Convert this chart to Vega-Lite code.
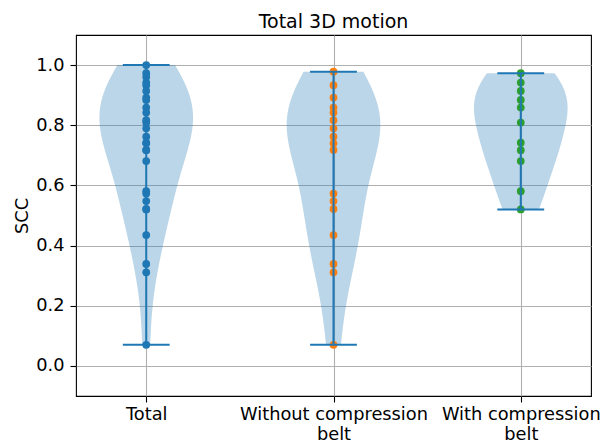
{
  "$schema": "https://vega.github.io/schema/vega-lite/v6.json",
  "width": 515,
  "height": 361,
  "autosize": {"type": "none"},
  "padding": {"left": 76, "top": 35, "right": 21, "bottom": 49},
  "background": "white",
  "config": {
    "font": "DejaVu Sans",
    "view": {"stroke": "#000000", "strokeWidth": 1.1},
    "axis": {
      "domain": false,
      "grid": true,
      "gridColor": "#b0b0b0",
      "gridWidth": 1.1,
      "tickColor": "#000000",
      "tickWidth": 1.1,
      "tickSize": 6,
      "labelPadding": 3,
      "labelLimit": 0,
      "labelOverlap": false,
      "labelFont": "DejaVu Sans",
      "labelFontSize": 17.8,
      "labelColor": "#000000",
      "titleFont": "DejaVu Sans",
      "titleFontSize": 17.8,
      "titleFontWeight": "normal",
      "titleColor": "#000000"
    },
    "title": {"font": "DejaVu Sans", "fontSize": 19, "fontWeight": "normal", "color": "#000000", "offset": 3, "baseline": "alphabetic"}
  },
  "title": {"text": "Total 3D motion"},
  "datasets": {
    "scc": [
      {"group": "Total", "value": 1.0},
      {"group": "Total", "value": 0.973},
      {"group": "Total", "value": 0.96},
      {"group": "Total", "value": 0.942},
      {"group": "Total", "value": 0.933},
      {"group": "Total", "value": 0.914},
      {"group": "Total", "value": 0.892},
      {"group": "Total", "value": 0.884},
      {"group": "Total", "value": 0.859},
      {"group": "Total", "value": 0.842},
      {"group": "Total", "value": 0.817},
      {"group": "Total", "value": 0.809},
      {"group": "Total", "value": 0.79},
      {"group": "Total", "value": 0.762},
      {"group": "Total", "value": 0.742},
      {"group": "Total", "value": 0.74},
      {"group": "Total", "value": 0.718},
      {"group": "Total", "value": 0.717},
      {"group": "Total", "value": 0.681},
      {"group": "Total", "value": 0.581},
      {"group": "Total", "value": 0.573},
      {"group": "Total", "value": 0.548},
      {"group": "Total", "value": 0.522},
      {"group": "Total", "value": 0.52},
      {"group": "Total", "value": 0.435},
      {"group": "Total", "value": 0.339},
      {"group": "Total", "value": 0.311},
      {"group": "Total", "value": 0.07},
      {"group": "Without compression belt", "value": 0.978},
      {"group": "Without compression belt", "value": 0.933},
      {"group": "Without compression belt", "value": 0.892},
      {"group": "Without compression belt", "value": 0.859},
      {"group": "Without compression belt", "value": 0.842},
      {"group": "Without compression belt", "value": 0.817},
      {"group": "Without compression belt", "value": 0.79},
      {"group": "Without compression belt", "value": 0.762},
      {"group": "Without compression belt", "value": 0.74},
      {"group": "Without compression belt", "value": 0.718},
      {"group": "Without compression belt", "value": 0.573},
      {"group": "Without compression belt", "value": 0.548},
      {"group": "Without compression belt", "value": 0.522},
      {"group": "Without compression belt", "value": 0.435},
      {"group": "Without compression belt", "value": 0.339},
      {"group": "Without compression belt", "value": 0.311},
      {"group": "Without compression belt", "value": 0.07},
      {"group": "With compression belt", "value": 0.973},
      {"group": "With compression belt", "value": 0.942},
      {"group": "With compression belt", "value": 0.914},
      {"group": "With compression belt", "value": 0.884},
      {"group": "With compression belt", "value": 0.859},
      {"group": "With compression belt", "value": 0.809},
      {"group": "With compression belt", "value": 0.742},
      {"group": "With compression belt", "value": 0.717},
      {"group": "With compression belt", "value": 0.681},
      {"group": "With compression belt", "value": 0.581},
      {"group": "With compression belt", "value": 0.52}
    ]
  },
  "data": {"name": "scc"},
  "transform": [
    {"calculate": "indexof(['Total', 'Without compression belt', 'With compression belt'], datum.group) + 1", "as": "pos"}
  ],
  "layer": [
    {
      "transform": [
        {"filter": "datum.group == 'Total'"},
        {"density": "value", "groupby": ["group", "pos"], "extent": [0.07, 1.0], "as": ["value", "density"], "steps": 200},
        {"joinaggregate": [{"op": "max", "field": "density", "as": "maxd"}]},
        {"calculate": "datum.pos - 0.25 * datum.density / datum.maxd", "as": "x0"},
        {"calculate": "datum.pos + 0.25 * datum.density / datum.maxd", "as": "x1"}
      ],
      "mark": {"type": "area", "orient": "horizontal", "color": "#1f77b4", "opacity": 0.3},
      "encoding": {
        "y": {"field": "value", "type": "quantitative"},
        "x": {"field": "x0", "type": "quantitative"},
        "x2": {"field": "x1"}
      }
    },
    {
      "transform": [
        {"filter": "datum.group == 'Without compression belt'"},
        {"density": "value", "groupby": ["group", "pos"], "extent": [0.07, 0.978], "as": ["value", "density"], "steps": 200},
        {"joinaggregate": [{"op": "max", "field": "density", "as": "maxd"}]},
        {"calculate": "datum.pos - 0.25 * datum.density / datum.maxd", "as": "x0"},
        {"calculate": "datum.pos + 0.25 * datum.density / datum.maxd", "as": "x1"}
      ],
      "mark": {"type": "area", "orient": "horizontal", "color": "#1f77b4", "opacity": 0.3},
      "encoding": {
        "y": {"field": "value", "type": "quantitative"},
        "x": {"field": "x0", "type": "quantitative"},
        "x2": {"field": "x1"}
      }
    },
    {
      "transform": [
        {"filter": "datum.group == 'With compression belt'"},
        {"density": "value", "groupby": ["group", "pos"], "extent": [0.52, 0.973], "as": ["value", "density"], "steps": 200},
        {"joinaggregate": [{"op": "max", "field": "density", "as": "maxd"}]},
        {"calculate": "datum.pos - 0.25 * datum.density / datum.maxd", "as": "x0"},
        {"calculate": "datum.pos + 0.25 * datum.density / datum.maxd", "as": "x1"}
      ],
      "mark": {"type": "area", "orient": "horizontal", "color": "#1f77b4", "opacity": 0.3},
      "encoding": {
        "y": {"field": "value", "type": "quantitative"},
        "x": {"field": "x0", "type": "quantitative"},
        "x2": {"field": "x1"}
      }
    },
    {
      "mark": {"type": "point", "filled": true, "size": 60, "opacity": 1},
      "encoding": {
        "x": {
          "field": "pos",
          "type": "quantitative",
          "scale": {"domain": [0.625, 3.375], "nice": false, "zero": false},
          "axis": {
            "title": null,
            "values": [1, 2, 3],
            "labelExpr": "datum.value == 1 ? 'Total' : datum.value == 2 ? ['Without compression', 'belt'] : ['With compression', 'belt']",
            "labelLineHeight": 20
          }
        },
        "y": {
          "field": "value",
          "type": "quantitative",
          "scale": {"domain": [-0.1, 1.1], "nice": false, "zero": false},
          "axis": {"title": "SCC", "values": [0, 0.2, 0.4, 0.6, 0.8, 1.0], "format": ".1f", "titlePadding": 4, "labelPadding": 6}
        },
        "color": {
          "field": "group",
          "type": "nominal",
          "scale": {"domain": ["Total", "Without compression belt", "With compression belt"], "range": ["#1f77b4", "#ff7f0e", "#2ca02c"]},
          "legend": null
        }
      }
    },
    {
      "transform": [
        {"aggregate": [{"op": "min", "field": "value", "as": "vmin"}, {"op": "max", "field": "value", "as": "vmax"}], "groupby": ["group", "pos"]}
      ],
      "mark": {"type": "rule", "color": "#1f77b4", "strokeWidth": 2},
      "encoding": {
        "x": {"field": "pos", "type": "quantitative"},
        "y": {"field": "vmin", "type": "quantitative"},
        "y2": {"field": "vmax"}
      }
    },
    {
      "transform": [
        {"aggregate": [{"op": "min", "field": "value", "as": "vmin"}, {"op": "max", "field": "value", "as": "vmax"}], "groupby": ["group", "pos"]},
        {"fold": ["vmin", "vmax"], "as": ["stat", "cap"]},
        {"calculate": "datum.pos - 0.125", "as": "c0"},
        {"calculate": "datum.pos + 0.125", "as": "c1"}
      ],
      "mark": {"type": "rule", "color": "#1f77b4", "strokeWidth": 2},
      "encoding": {
        "x": {"field": "c0", "type": "quantitative"},
        "x2": {"field": "c1"},
        "y": {"field": "cap", "type": "quantitative"}
      }
    }
  ]
}
